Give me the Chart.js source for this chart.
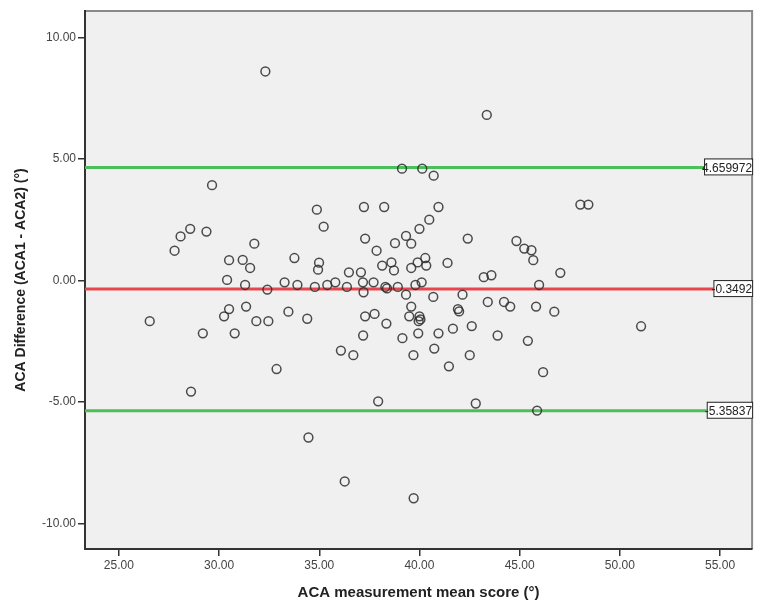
<!DOCTYPE html>
<html>
<head>
<meta charset="utf-8">
<script src="https://cdn.jsdelivr.net/npm/chart.js@4"></script>
<style>
    body { margin: 0; background: #fff; }
    #wrap { width: 758px; height: 610px; }
</style>
</head>
<body>
<div id="wrap"><canvas id="blandAltman" width="758" height="610"></canvas></div>
<script>
// mean of the two ACA measurements (x) and their difference (y)
const meanScore = [
    29.65, 32.31, 43.36, 39.13, 40.14, 40.71, 28.56, 28.08, 27.78, 29.37,
    31.76, 30.50, 31.18, 31.55, 33.76, 30.40, 31.30, 32.41, 33.27, 33.91,
    26.54, 30.50, 30.25, 31.35, 31.86, 32.46, 33.46, 34.40, 29.19, 30.78,
    32.87, 34.88, 37.23, 38.24, 40.95, 35.22, 40.49, 40.00, 37.29, 39.33,
    39.59, 38.78, 42.41, 44.84, 37.86, 34.99, 34.94, 38.14, 38.60, 38.73,
    39.59, 39.91, 40.29, 40.34, 41.40, 36.48, 37.08, 43.21, 43.59, 34.78,
    35.40, 35.80, 36.38, 37.18, 37.71, 37.21, 38.30, 38.38, 38.92, 39.80,
    40.11, 39.33, 40.69, 42.15, 37.29, 37.76, 39.59, 39.49, 40.00, 39.96,
    40.05, 41.92, 41.98, 43.41, 44.22, 44.53, 38.35, 39.94, 40.95, 41.67,
    42.61, 43.90, 37.19, 39.15, 36.08, 36.70, 39.70, 40.74, 42.51, 41.47,
    48.03, 48.43, 45.23, 45.59, 45.68, 47.03, 45.97, 45.82, 46.73, 45.41,
    51.06, 46.17, 28.60, 37.94, 34.46, 36.27, 39.71, 42.81, 45.87
];
const difference = [
    3.93, 8.61, 6.82, 4.61, 4.61, 4.32, 2.13, 1.82, 1.23, 2.02,
    1.52, 0.84, 0.85, 0.52, 0.93, 0.03, -0.18, -0.37, -0.07, -0.18,
    -1.67, -1.17, -1.47, -1.07, -1.67, -1.67, -1.28, -1.57, -2.17, -2.17,
    -3.64, 2.92, 3.03, 3.03, 3.03, 2.22, 2.51, 2.13, 1.73, 1.84,
    1.52, 1.54, 1.73, 1.63, 1.23, 0.74, 0.45, 0.62, 0.75, 0.42,
    0.52, 0.75, 0.93, 0.62, 0.73, 0.34, 0.34, 0.14, 0.22, -0.26,
    -0.18, -0.07, -0.26, -0.07, -0.07, -0.48, -0.26, -0.32, -0.26, -0.18,
    -0.07, -0.58, -0.67, -0.58, -1.47, -1.37, -1.07, -1.47, -1.47, -1.67,
    -1.60, -1.17, -1.27, -0.88, -0.88, -1.07, -1.77, -2.17, -2.17, -1.98,
    -1.87, -2.26, -2.26, -2.37, -2.88, -3.07, -3.07, -2.80, -3.07, -3.53,
    3.13, 3.13, 1.32, 1.25, 0.84, 0.32, -0.18, -1.07, -1.28, -2.48,
    -1.88, -3.77, -4.57, -4.97, -6.46, -8.27, -8.96, -5.06, -5.35
];

const meanDiff = -0.3492;
const upperLimit = 4.659972;
const lowerLimit = -5.35837;

const xTicks = [25, 30, 35, 40, 45, 50, 55];
const yTicks = [-10, -5, 0, 5, 10];

const refLines = [
    { value: upperLimit, label: '4.659972', color: 'rgb(76, 190, 90)' },
    { value: meanDiff, label: '-0.3492', color: 'rgb(232, 70, 78)' },
    { value: lowerLimit, label: '-5.35837', color: 'rgb(76, 190, 90)' }
];

const fontFamily = "Arial, 'Liberation Sans', sans-serif";

const plotFrame = {
    id: 'plotFrame',
    beforeDraw(chart) {
        const { ctx, chartArea: a } = chart;
        ctx.save();
        ctx.fillStyle = '#f0f0f0';
        ctx.fillRect(a.left, a.top, a.right - a.left, a.bottom - a.top);
        ctx.strokeStyle = '#8a8a8a';
        ctx.lineWidth = 2;
        ctx.beginPath();
        ctx.moveTo(a.left, a.top);
        ctx.lineTo(a.right, a.top);
        ctx.lineTo(a.right, a.bottom);
        ctx.stroke();
        ctx.restore();
    },
    beforeDatasetsDraw(chart) {
        const { ctx, chartArea: a, scales } = chart;
        ctx.save();
        refLines.forEach(l => {
            const y = scales.y.getPixelForValue(l.value);
            ctx.strokeStyle = l.color;
            ctx.lineWidth = 3;
            ctx.beginPath();
            ctx.moveTo(a.left, y);
            ctx.lineTo(a.right, y);
            ctx.stroke();
        });
        ctx.restore();
    },
    afterDatasetsDraw(chart) {
        const { ctx, chartArea: a, scales } = chart;
        ctx.save();
        ctx.font = '12px ' + fontFamily;
        ctx.textBaseline = 'middle';
        refLines.forEach(l => {
            const y = scales.y.getPixelForValue(l.value);
            const tw = ctx.measureText(l.label).width;
            // the box starts a little inside the first glyph, as in the original
            const w = tw - 1;
            const x0 = a.right + 1 - w;
            ctx.fillStyle = '#fff';
            ctx.fillRect(x0, y - 8, w, 16);
            ctx.fillStyle = '#222';
            ctx.fillText(l.label, x0 - 2, y + 1);
            ctx.strokeStyle = '#222';
            ctx.lineWidth = 1;
            ctx.strokeRect(x0 + 0.5, y - 8.5, w - 1, 16);
        });
        ctx.restore();
    }
};

new Chart(document.getElementById('blandAltman'), {
    type: 'scatter',
    data: {
        datasets: [{
            label: 'Difference',
            data: meanScore.map((m, i) => ({ x: m, y: difference[i] })),
            backgroundColor: 'rgba(0, 0, 0, 0)',
            borderColor: 'rgba(45, 45, 45, 0.85)',
            borderWidth: 1.5,
            pointRadius: 4.4
        }]
    },
    options: {
        responsive: false,
        animation: false,
        layout: {
            padding: { top: 11, right: 2, left: 0, bottom: 0 }
        },
        plugins: {
            legend: { display: false },
            tooltip: { enabled: false }
        },
        scales: {
            x: {
                type: 'linear',
                min: 23.31,
                max: 56.6,
                afterBuildTicks: scale => { scale.ticks = xTicks.map(v => ({ value: v })); },
                afterFit: scale => { scale.height = 61; },
                border: { display: true, color: '#333', width: 2 },
                grid: { drawOnChartArea: false, drawTicks: true, tickLength: 7, color: '#333', lineWidth: 1.5 },
                ticks: {
                    color: '#444',
                    font: { family: fontFamily, size: 12 },
                    padding: 2,
                    maxRotation: 0,
                    autoSkip: false,
                    callback: v => v.toFixed(2)
                },
                title: {
                    display: true,
                    text: 'ACA measurement mean score (°)',
                    color: '#222',
                    font: { family: fontFamily, size: 15, weight: 'bold' },
                    padding: { top: 4, bottom: 8 }
                }
            },
            y: {
                type: 'linear',
                min: -11.05,
                max: 11.1,
                afterBuildTicks: scale => { scale.ticks = yTicks.map(v => ({ value: v })); },
                afterFit: scale => { scale.width = 85; },
                border: { display: true, color: '#333', width: 2 },
                grid: { drawOnChartArea: false, drawTicks: true, tickLength: 7, color: '#333', lineWidth: 1.5 },
                ticks: {
                    color: '#444',
                    font: { family: fontFamily, size: 12 },
                    padding: 2,
                    autoSkip: false,
                    callback: v => v.toFixed(2)
                },
                title: {
                    display: true,
                    text: 'ACA Difference (ACA1 - ACA2) (°)',
                    color: '#222',
                    font: { family: fontFamily, size: 14, weight: 'bold' },
                    padding: { top: 13, bottom: 0 }
                }
            }
        }
    },
    plugins: [plotFrame]
});
</script>
</body>
</html>
